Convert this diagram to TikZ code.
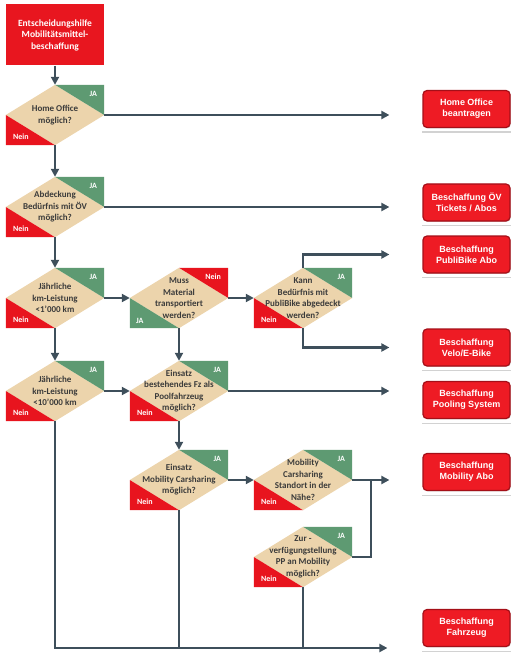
\documentclass[tikz,border=0pt]{standalone}
\usepackage{fontspec}
\setmainfont{Carlito}
\newfontfamily\goalfont{Liberation Sans}
\usetikzlibrary{arrows.meta,backgrounds,shadows}

\definecolor{startred}{HTML}{E8161F}
\definecolor{neinred}{HTML}{E8141E}
\definecolor{jagreen}{HTML}{5E9A72}
\definecolor{decisiontan}{HTML}{ECD4AC}
\definecolor{flowline}{HTML}{3E4F5B}
\definecolor{goalred}{HTML}{EE1B24}
\definecolor{goaldark}{HTML}{A50F18}
\definecolor{txtgray}{HTML}{3B3B3B}

\begin{document}
\begin{tikzpicture}[x=1pt, y=-1pt,
    flow/.style={draw=flowline, line width=2.6pt},
    flowarrow/.style={flow, -{Triangle[length=8pt,width=8pt]}},
    startbox/.style={fill=startred, minimum width=98pt, minimum height=61pt, inner sep=0pt,
      align=center, text=white, font=\bfseries\fontsize{9.5}{11.5}\selectfont},
    decision/.style={minimum width=98pt, minimum height=60pt, inner sep=0pt,
      align=center, text=txtgray, font=\bfseries\fontsize{9}{11.5}\selectfont},
    janein/.style={text=white, inner sep=0pt, font=\bfseries\fontsize{8}{9}\selectfont},
    goal/.style={fill=goalred, draw=goaldark, line width=1.2pt, rounded corners=4pt,
      minimum width=87pt, minimum height=37pt, inner sep=0pt, align=center, text=white,
      font=\goalfont\bfseries\fontsize{9}{11}\selectfont,
      drop shadow={shadow xshift=0.8pt, shadow yshift=-0.8pt, opacity=0.35}},
    underline/.style={draw=gray!35, line width=1.2pt}]
    \useasboundingbox (0,0) rectangle (518,660);

    \node[startbox] (start) at (55,35) {Entscheidungshilfe\\Mobilitätsmittel-\\beschaffung};

    % questions
    \node[decision] (d1) at (55,115) {Home Office\\möglich?};
    \node[decision] (d2) at (55,207) {Abdeckung\\Bedürfnis mit ÖV\\möglich?};
    \node[decision] (d3) at (55,298) {Jährliche\\km-Leistung\\<1’000 km};
    \node[decision] (d4) at (179,298) {Muss\\Material\\transportiert\\werden?};
    \node[decision] (d5) at (303,298) {Kann\\Bedürfnis mit\\PubliBike abgedeckt\\werden?};
    \node[decision] (d6) at (55,391) {Jährliche\\km-Leistung\\<10’000 km};
    \node[decision] (d7) at (179,391) {Einsatz\\bestehendes Fz als\\Poolfahrzeug\\möglich?};
    \node[decision] (d8) at (179,480) {Einsatz\\Mobility Carsharing\\möglich?};
    \node[decision] (d9) at (303,480) {Mobility\\Carsharing\\Standort in der\\Nähe?};
    \node[decision] (d10) at (303,557) {Zur -\\verfügungstellung\\PP an Mobility\\möglich?};

    \begin{scope}[on background layer]
      \foreach \d in {d1,d2,d3,d5,d6,d7,d8,d9,d10} {
        \fill[decisiontan] (\d.west) -- (\d.north) -- (\d.east) -- (\d.south) -- cycle;
        \fill[jagreen] (\d.north) -- (\d.north east) -- (\d.east) -- cycle;
        \fill[neinred] (\d.west) -- (\d.south west) -- (\d.south) -- cycle;
      }
      % d4 has the answers swapped
      \fill[decisiontan] (d4.west) -- (d4.north) -- (d4.east) -- (d4.south) -- cycle;
      \fill[neinred] (d4.north) -- (d4.north east) -- (d4.east) -- cycle;
      \fill[jagreen] (d4.west) -- (d4.south west) -- (d4.south) -- cycle;
    \end{scope}
    \foreach \d in {d1,d2,d3,d5,d6,d7,d8,d9,d10} {
      \node[janein] (\d-ja) at ([xshift=-11pt,yshift=-9pt]\d.north east) {JA};
      \node[janein] (\d-nein) at ([xshift=15pt,yshift=8pt]\d.south west) {Nein};
    }
    \node[janein] (d4-nein) at ([xshift=-15pt,yshift=-9pt]d4.north east) {Nein};
    \node[janein] (d4-ja) at ([xshift=10pt,yshift=7pt]d4.south west) {JA};

    % outcomes
    \node[goal] (g1) at (466.5,109) {Home Office\\beantragen};
    \node[goal] (g2) at (466.5,202.5) {Beschaffung ÖV\\Tickets / Abos};
    \node[goal] (g3) at (466.5,254.5) {Beschaffung\\PubliBike Abo};
    \node[goal] (g4) at (466.5,347.5) {Beschaffung\\Velo/E-Bike};
    \node[goal] (g5) at (466.5,400) {Beschaffung\\Pooling System};
    \node[goal] (g6) at (466.5,472) {Beschaffung\\Mobility Abo};
    \node[goal] (g7) at (466.5,628) {Beschaffung\\Fahrzeug};
    \foreach \g in {g1,g2,g3,g4,g5,g6,g7}
      \draw[underline] ([yshift=-4pt]\g.south west) -- ([yshift=-4pt]\g.south east);

    \coordinate (join) at (371,480);
    \coordinate (lowline) at (55,648);

    \draw[flowarrow] (start.south) -- (d1.north);
    \draw[flowarrow, shorten >=33pt] (d1.east) -- (d1.east -| g1.west);
    \draw[flowarrow] (d1.south) -- (d2.north);
    \draw[flowarrow, shorten >=33pt] (d2.east) -- (d2.east -| g2.west);
    \draw[flowarrow] (d2.south) -- (d3.north);
    \draw[flowarrow] (d3.east) -- (d4.west);
    \draw[flowarrow] (d4.east) -- (d5.west);
    \draw[flowarrow, shorten >=33pt] (d5.north) |- (g3.west);
    \draw[flowarrow, shorten >=33pt] (d5.south) |- (g4.west);
    \draw[flowarrow] (d3.south) -- (d6.north);
    \draw[flowarrow] (d4.south) -- (d7.north);
    \draw[flowarrow] (d6.east) -- (d7.west);
    \draw[flowarrow, shorten >=33pt] (d7.east) -- (d7.east -| g5.west);
    \draw[flowarrow] (d7.south) -- (d8.north);
    \draw[flowarrow] (d8.east) -- (d9.west);
    \draw[flowarrow, shorten >=33pt] (d9.east) -- (d9.east -| g6.west);
    \draw[flow] (d10.east) -| (join);
    \draw[flowarrow, shorten >=35pt] (d6.south) -- (lowline) -- (lowline -| g7.west);
    \draw[flow] (d8.south) -- (d8.south |- lowline);
    \draw[flow] (d10.south) -- (d10.south |- lowline);
\end{tikzpicture}
\end{document}
